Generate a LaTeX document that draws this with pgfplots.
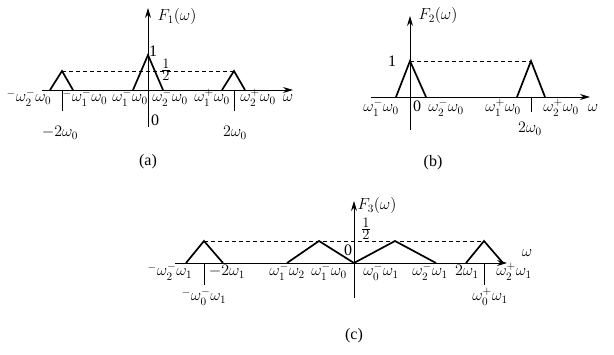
\RequirePackage{fix-cm}
\documentclass[border=0pt]{standalone}
\usepackage{amsmath}
\usepackage{fontspec}
\setmainfont{Liberation Serif}
\usepackage{pgfplots}
\pgfplotsset{compat=1.18}
\usetikzlibrary{arrows.meta}
\newcommand{\hf}{\frac{\textstyle 1}{\textstyle 2}}
\begin{document}
\begin{tikzpicture}[
  lbl/.style={anchor=base, font=\fontsize{16}{18}\selectfont, inner sep=0pt},
  lblc/.style={anchor=center, font=\fontsize{14.5}{16}\selectfont, inner sep=0pt},
]
\begin{axis}[
  scale only axis, width=614pt, height=355pt,
  xmin=0, xmax=614, ymin=0, ymax=355, y dir=reverse,
  hide axis, clip=false,
]
\addplot[draw=none] coordinates {(0,0) (614,355)};
% ===== panel (a) =====
\addplot[black, line width=0.9pt, -{Stealth[length=10pt,width=6pt]}] coordinates {(42,90) (293,90)};
\addplot[black, line width=0.9pt, -{Stealth[length=10pt,width=6pt]}] coordinates {(148,127) (148,8)};
\addplot[black, line width=1.7pt] coordinates {(133,90) (148,55) (163,90)};
\addplot[black, line width=1.7pt] coordinates {(50,90) (62,71) (73,90)};
\addplot[black, line width=1.7pt] coordinates {(222,90) (234,71) (245,90)};
\addplot[black, line width=0.8pt, dash pattern=on 4pt off 3pt] coordinates {(62,71) (234,71)};
\addplot[black, line width=0.9pt] coordinates {(62,90) (62,111)};
\addplot[black, line width=0.9pt] coordinates {(234,90) (234,111)};
\node[lbl] at (axis cs:29,102) {${}^{-}\omega_2^{-}\omega_0$};
\node[lbl] at (axis cs:85,102) {${}^{-}\omega_1^{-}\omega_0$};
\node[lbl] at (axis cs:130,102) {$\omega_1^{-}\omega_0$};
\node[lbl] at (axis cs:170,102) {$\omega_2^{-}\omega_0$};
\node[lbl] at (axis cs:212,102) {$\omega_1^{+}\omega_0$};
\node[lbl] at (axis cs:258,102) {$\omega_2^{+}\omega_0$};
\node[lbl] at (axis cs:288,102) {$\omega$};
\node[lbl] at (axis cs:155,126) {0};
\node[lbl] at (axis cs:60,137) {$-2\omega_0$};
\node[lbl] at (axis cs:235,137) {$2\omega_0$};
\node[lbl] at (axis cs:148,166) {(a)};
\node[lbl] at (axis cs:153,57) {1};
\node[lblc] at (axis cs:166,70) {$\hf$};
\node[lbl] at (axis cs:177,21) {$F_1(\omega)$};
% ===== panel (b) =====
\addplot[black, line width=0.9pt, -{Stealth[length=10pt,width=6pt]}] coordinates {(371,97) (590,97)};
\addplot[black, line width=0.9pt, -{Stealth[length=10pt,width=6pt]}] coordinates {(410,130) (410,16)};
\addplot[black, line width=1.7pt] coordinates {(396,97) (410,61) (426,97)};
\addplot[black, line width=1.7pt] coordinates {(517,97) (531,61) (545,97)};
\addplot[black, line width=0.8pt, dash pattern=on 4pt off 3pt] coordinates {(410,61) (531,61)};
\addplot[black, line width=0.9pt] coordinates {(531,97) (531,112)};
\node[lbl] at (axis cs:381,112) {$\omega_1^{-}\omega_0$};
\node[lbl] at (axis cs:417,112) {0};
\node[lbl] at (axis cs:446,112) {$\omega_2^{-}\omega_0$};
\node[lbl] at (axis cs:503,112) {$\omega_1^{+}\omega_0$};
\node[lbl] at (axis cs:561,112) {$\omega_2^{+}\omega_0$};
\node[lbl] at (axis cs:593,112) {$\omega$};
\node[lbl] at (axis cs:530,133) {$2\omega_0$};
\node[lbl] at (axis cs:433,167) {(b)};
\node[lbl] at (axis cs:392,67) {1};
\node[lbl] at (axis cs:438,20) {$F_2(\omega)$};
% ===== panel (c) =====
\addplot[black, line width=0.9pt, -{Stealth[length=10pt,width=6pt]}] coordinates {(175,263) (507,263)};
\addplot[black, line width=0.9pt, -{Stealth[length=10pt,width=6pt]}] coordinates {(354,298) (354,201)};
\addplot[black, line width=1.7pt] coordinates {(186,263) (204,241) (223,263)};
\addplot[black, line width=1.7pt] coordinates {(287,263) (319,241) (354,263)};
\addplot[black, line width=1.7pt] coordinates {(354,263) (395,241) (436,263)};
\addplot[black, line width=1.7pt] coordinates {(466,263) (484,241) (503,263)};
\addplot[black, line width=0.8pt, dash pattern=on 4pt off 3pt] coordinates {(204,241) (484,241)};
\addplot[black, line width=0.9pt] coordinates {(204,263) (204,285)};
\addplot[black, line width=0.9pt] coordinates {(484,263) (484,285)};
\node[lbl] at (axis cs:170,276) {${}^{-}\omega_2^{-}\omega_1$};
\node[lbl] at (axis cs:227,276) {$-2\omega_1$};
\node[lbl] at (axis cs:287,276) {$\omega_1^{-}\omega_2$};
\node[lbl] at (axis cs:329,276) {$\omega_1^{-}\omega_0$};
\node[lbl] at (axis cs:381,276) {$\omega_0^{-}\omega_1$};
\node[lbl] at (axis cs:430,276) {$\omega_2^{-}\omega_1$};
\node[lbl] at (axis cs:467,276) {$2\omega_1$};
\node[lbl] at (axis cs:514,276) {$\omega_2^{+}\omega_1$};
\node[lbl] at (axis cs:527,257) {$\omega$};
\node[lbl] at (axis cs:204,301) {${}^{-}\omega_0^{-}\omega_1$};
\node[lbl] at (axis cs:490,301) {$\omega_0^{+}\omega_1$};
\node[lbl] at (axis cs:348,256) {0};
\node[lblc] at (axis cs:366,229) {$\hf$};
\node[lbl] at (axis cs:377,210) {$F_3(\omega)$};
\node[lbl] at (axis cs:354,340) {(c)};
\end{axis}
\end{tikzpicture}
\end{document}
